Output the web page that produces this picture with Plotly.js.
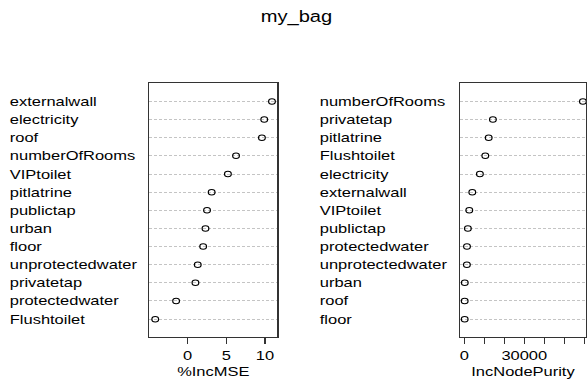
<!DOCTYPE html>
<html>
<head>
<meta charset="utf-8">
<script src="https://cdn.plot.ly/plotly-3.0.1.min.js"></script>
<style>
  html, body { margin: 0; padding: 0; background: #fff; overflow: hidden; }
  #wrap { width: 587px; height: 386px; overflow: hidden; }
  #chart { width: 481px; height: 386px; transform: scaleX(1.2204); transform-origin: 0 0; }
</style>
</head>
<body>
<div id="wrap"><div id="chart"></div></div>
<script>
// Variable importance of the bagged model, listed bottom-to-top as plotted
const mseVars = ["Flushtoilet", "protectedwater", "privatetap", "unprotectedwater", "floor",
  "urban", "publictap", "pitlatrine", "VIPtoilet", "numberOfRooms", "roof", "electricity", "externalwall"];
const mseVals = [-4.2, -1.5, 1.0, 1.3, 2.0, 2.3, 2.5, 3.1, 5.2, 6.25, 9.6, 9.9, 10.9];

const purityVars = ["floor", "roof", "urban", "unprotectedwater", "protectedwater", "publictap",
  "VIPtoilet", "externalwall", "electricity", "Flushtoilet", "pitlatrine", "privatetap", "numberOfRooms"];
const purityVals = [200, 200, 250, 1300, 1350, 1800, 2500, 4000, 7800, 10500, 12200, 14300, 59300];

const mseTicks = [0, 5, 10];
const purityTicks = [0, 10000, 20000, 30000, 40000, 50000, 60000];
const purityTickText = ["0", "", "", "30000", "", "", ""];

const FONT = "Liberation Sans, Arial, Helvetica, sans-serif";
const n = mseVars.length;

const dotStyle = { symbol: "circle-open", size: 5.5, color: "#000", line: { width: 1, color: "#000" } };

const traces = [
  { x: mseVals, y: mseVars, xaxis: "x", yaxis: "y", type: "scatter", mode: "markers",
    marker: dotStyle, hoverinfo: "x+y" },
  { x: purityVals, y: purityVars, xaxis: "x2", yaxis: "y2", type: "scatter", mode: "markers",
    marker: dotStyle, hoverinfo: "x+y" }
];

// Row labels, left aligned beside each panel
const annotations = [];
mseVars.forEach(v => annotations.push({
  text: v, xref: "paper", yref: "y", x: 0.0119, y: v, xanchor: "left", yanchor: "middle",
  showarrow: false, font: { family: FONT, size: 13.5, color: "#000" }
}));
purityVars.forEach(v => annotations.push({
  text: v, xref: "paper", yref: "y2", x: 0.5400, y: v, xanchor: "left", yanchor: "middle",
  showarrow: false, font: { family: FONT, size: 13.5, color: "#000" }
}));

const boxAxis = {
  showline: true, mirror: true, linecolor: "#333", linewidth: 1, zeroline: false
};
const yAxisBase = Object.assign({}, boxAxis, {
  type: "category", range: [-1, n], showticklabels: false, ticks: "",
  showgrid: true, gridcolor: "#c4c4c4", griddash: "2.4px,1.6px", gridwidth: 1,
  domain: [0.1262, 0.7842]
});
const xAxisBase = Object.assign({}, boxAxis, {
  showgrid: false, ticks: "outside", ticklen: 6, tickwidth: 1, tickcolor: "#333",
  tickfont: { family: FONT, size: 13.5, color: "#000" }, tickmode: "array"
});

const layout = {
  width: 481, height: 386,
  margin: { l: 0, r: 0, t: 0, b: 0 },
  paper_bgcolor: "#fff", plot_bgcolor: "#fff",
  showlegend: false,
  font: { family: FONT, color: "#000" },
  title: {
    text: "my_bag", x: 0.505, xanchor: "center", y: 1 - 16 / 386, yanchor: "middle",
    yref: "container", font: { family: FONT, size: 16.5, color: "#000" }
  },
  xaxis: Object.assign({}, xAxisBase, {
    domain: [0.2543, 0.4724], range: [-4.97, 11.59], anchor: "y",
    tickvals: mseTicks, ticktext: mseTicks.map(String),
    title: { text: "%IncMSE", standoff: 4, font: { family: FONT, size: 13.5, color: "#000" } }
  }),
  yaxis: Object.assign({}, yAxisBase, { anchor: "x", categoryorder: "array", categoryarray: mseVars }),
  xaxis2: Object.assign({}, xAxisBase, {
    domain: [0.7836, 0.9983], range: [-2150, 60850], anchor: "y2",
    tickvals: purityTicks, ticktext: purityTickText,
    title: { text: "IncNodePurity", standoff: 4, font: { family: FONT, size: 13.5, color: "#000" } }
  }),
  yaxis2: Object.assign({}, yAxisBase, { anchor: "x2", categoryorder: "array", categoryarray: purityVars }),
  annotations: annotations
};

Plotly.newPlot("chart", traces, layout, { displayModeBar: false, staticPlot: true });
</script>
</body>
</html>
